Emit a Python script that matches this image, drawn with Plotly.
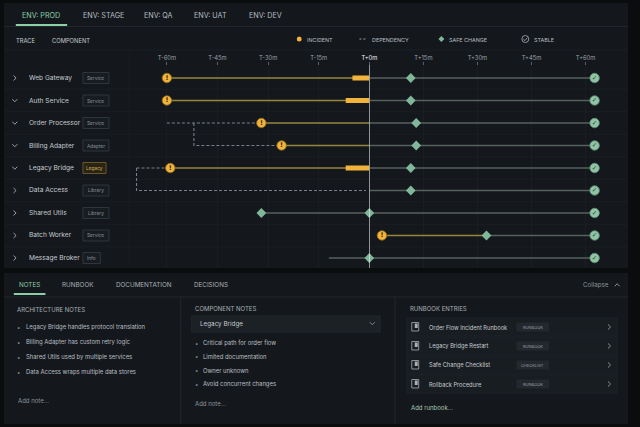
import plotly.graph_objects as go

# --- data ---
components = ["Web Gateway", "Auth Service", "Order Processor", "Billing Adapter",
              "Legacy Bridge", "Data Access", "Shared Utils", "Batch Worker", "Message Broker"]
kinds = ["Service", "Service", "Service", "Adapter", "Legacy", "Library", "Library", "Service", "Info"]
expanded = [False, True, True, True, True, False, False, False, False]

tick_vals = [-60, -45, -30, -15, 0, 15, 30, 45, 60]
tick_text = ["T-60m", "T-45m", "T-30m", "T-15m", "T+0m", "T+15m", "T+30m", "T+45m", "T+60m"]

incident_at = [-60, -60, -32, -26, -59, None, None, 3.5, None]
incident_end = [0, 0, 0, 0, 0, None, None, 32.5, None]
impact_from = [-5, -7, None, None, -7, None, None, None, None]
healthy_from = [0, 0, 0, 0, 0, 0, -32, 32.5, -12]
safe_changes = [[11.5], [11.5], [13], [13], [11.5], [11.5], [-32, 0], [32.5], [0]]
stable_at = [62.5, 62.5, 62.5, 62.5, 62.5, 62.5, 62.5, 62.5, 62.5]

# dependency paths as (minute, row index)
dep_paths = [
    [(-60, 2), (-32, 2)],
    [(-52, 2), (-52, 3), (-26, 3)],
    [(-69, 4), (-59, 4)],
    [(-69, 4), (-69, 5), (-1, 5)],
]

env_tabs = ["ENV: PROD", "ENV: STAGE", "ENV: QA", "ENV: UAT", "ENV: DEV"]
bottom_tabs = ["NOTES", "RUNBOOK", "DOCUMENTATION", "DECISIONS"]
architecture_notes = ["Legacy Bridge handles protocol translation",
                      "Billing Adapter has custom retry logic",
                      "Shared Utils used by multiple services",
                      "Data Access wraps multiple data stores"]
component_notes = ["Critical path for order flow", "Limited documentation",
                   "Owner unknown", "Avoid concurrent changes"]
runbook_titles = ["Order Flow Incident Runbook", "Legacy Bridge Restart",
                  "Safe Change Checklist", "Rollback Procedure"]
runbook_types = ["RUNBOOK", "RUNBOOK", "CHECKLIST", "RUNBOOK"]

# --- colours ---
OUTER = "#0a0c0e"
PANEL = "#14181c"
EDGE = "#22272d"
FAINT = "#1a1e23"
TEXT = "#c6cbd0"
DIM = "#8c9298"
GREEN = "#8bcfa6"
YELLOW = "#f2b33d"
YELLOW_DIM = "#97843f"
GRAY_LINE = "#56615e"
SAFE = "#80b699"
STABLE = "#8fc4a4"
DEP = "#7a7f87"
FONT = "Inter"

W, H = 640, 427


def px(x):
    return x / W


def py(y):
    return 1 - y / H


def ppath(points, close=False):
    s = "M " + " L ".join(f"{px(x):.5f},{py(y):.5f}" for x, y in points)
    return s + (" Z" if close else "")


shapes = []
annotations = []


def text(x, y, s, size=6.5, color=TEXT, anchor="left"):
    annotations.append(dict(x=px(x), y=py(y), xref="paper", yref="paper",
                            text=s, showarrow=False, xanchor=anchor, yanchor="middle",
                            font=dict(family=FONT, size=size, color=color)))


def rect(x0, y0, x1, y1, fill=None, line=None, width=1, layer="below"):
    shapes.append(dict(type="rect", xref="paper", yref="paper",
                       x0=px(x0), x1=px(x1), y0=py(y1), y1=py(y0),
                       fillcolor=fill or "rgba(0,0,0,0)",
                       line=dict(color=line or "rgba(0,0,0,0)", width=width if line else 0),
                       layer=layer))


def hline(x0, x1, y, color=EDGE, width=1):
    shapes.append(dict(type="line", xref="paper", yref="paper", x0=px(x0), x1=px(x1),
                       y0=py(y), y1=py(y), line=dict(color=color, width=width), layer="below"))


def vline(x, y0, y1, color=EDGE, width=1):
    shapes.append(dict(type="line", xref="paper", yref="paper", x0=px(x), x1=px(x),
                       y0=py(y0), y1=py(y1), line=dict(color=color, width=width), layer="below"))


def chevron(x, y, kind, color="#9aa0a6"):
    if kind == "down":
        pts = [(x - 2.5, y - 1.3), (x, y + 1.3), (x + 2.5, y - 1.3)]
    elif kind == "up":
        pts = [(x - 2.5, y + 1.3), (x, y - 1.3), (x + 2.5, y + 1.3)]
    else:
        pts = [(x - 1.3, y - 2.5), (x + 1.3, y), (x - 1.3, y + 2.5)]
    shapes.append(dict(type="path", xref="paper", yref="paper", path=ppath(pts),
                       line=dict(color=color, width=1), layer="above"))


# --- panels ---
rect(4, 3, 636, 268, fill=PANEL)
rect(4, 273, 636, 424, fill=PANEL)
hline(4, 636, 26.5)
hline(4, 636, 50, color=FAINT)
vline(131, 50, 268, color=FAINT)

# top tabs
tab_x = [42, 105, 160, 213, 269]
for i, (t, x) in enumerate(zip(env_tabs, tab_x)):
    text(x, 15.5, t, size=7.2, color=GREEN if i == 0 else "#b7bcc2", anchor="center")
hline(16, 68, 25, color=GREEN, width=2)

# header + legend
text(14, 40, "TRACE", size=5.8)
text(51, 40, "COMPONENT", size=5.8)
shapes.append(dict(type="circle", xref="paper", yref="paper", x0=px(300.5), x1=px(305.5),
                   y0=py(41.5), y1=py(36.5), fillcolor=YELLOW, line=dict(width=0), layer="above"))
text(309, 39.5, "INCIDENT", size=5.4, color="#b9bec3")
shapes.append(dict(type="line", xref="paper", yref="paper", x0=px(364), x1=px(372), y0=py(39), y1=py(39),
                   line=dict(color="#9aa0a6", width=1, dash="2px,2px"), layer="above"))
text(375, 39.5, "DEPENDENCY", size=5.4, color="#b9bec3")
shapes.append(dict(type="path", xref="paper", yref="paper",
                   path=ppath([(447, 36), (450, 39), (447, 42), (444, 39)], close=True),
                   fillcolor=SAFE, line=dict(width=0), layer="above"))
text(453, 39.5, "SAFE CHANGE", size=5.4, color="#b9bec3")
shapes.append(dict(type="circle", xref="paper", yref="paper", x0=px(528.5), x1=px(535.5),
                   y0=py(42.5), y1=py(35.5), line=dict(color="#9aa0a6", width=0.9), layer="above"))
shapes.append(dict(type="path", xref="paper", yref="paper",
                   path=ppath([(530, 39.2), (531.6, 40.6), (534, 37.6)]),
                   line=dict(color="#9aa0a6", width=0.9), layer="above"))
text(539, 39.5, "STABLE", size=5.4, color="#b9bec3")

# component rows
for i, (name, kind, exp) in enumerate(zip(components, kinds, expanded)):
    if i < len(components) - 1:
        shapes.append(dict(type="line", xref="paper", yref="y", x0=px(4), x1=px(636), y0=i + 0.5, y1=i + 0.5,
                           line=dict(color=FAINT, width=1), layer="below"))
    yy = 78 + 22.5 * i
    chevron(15, yy, "down" if exp else "right")
    text(27, yy, name, size=6.6, color=TEXT)
    w = 6 + 2.9 * len(kind)
    legacy = kind == "Legacy"
    rect(84, yy - 5.5, 84 + w, yy + 5.5, fill="#2a2414" if legacy else "#171c21",
         line="#7a6530" if legacy else "#363c44", width=0.8, layer="above")
    text(84 + w / 2, yy, kind, size=4.8, color="#d6b25a" if legacy else "#8a9199", anchor="center")

# bottom panel
for i, (t, x) in enumerate(zip(bottom_tabs, [30, 79, 146, 214])):
    text(x, 285, t, size=6.3, color=GREEN if i == 0 else "#aab0b6", anchor="center")
hline(14, 46, 294, color=GREEN, width=2)
text(604, 285, "Collapse", size=6.2, color="#8c9298", anchor="center")
chevron(625, 285, "up", color="#8c9298")
hline(4, 636, 297)
vline(183, 297, 424)
vline(400, 297, 424)

text(15, 309, "ARCHITECTURE NOTES", size=6.0, color="#a9afb5")
for k, note in enumerate(architecture_notes):
    yy = 327 + 15 * k
    text(15.5, yy, "•", size=6, color=DIM)
    text(24, yy, note, size=5.9, color="#b9bec3")
text(16, 400, "Add note...", size=6, color=DIM)

text(195, 308, "COMPONENT NOTES", size=6.0, color="#a9afb5")
rect(194, 316, 385, 332, fill="#1c2126", line="#23292f", width=0.8)
text(201, 324, "Legacy Bridge", size=6.3, color=TEXT)
chevron(377, 323.5, "down", color="#7c828a")
for k, note in enumerate(component_notes):
    yy = 343 + 13.7 * k
    text(195.5, yy, "•", size=6, color=DIM)
    text(204, yy, note, size=5.9, color="#b9bec3")
text(195, 403, "Add note...", size=6, color=DIM)

text(413, 308, "RUNBOOK ENTRIES", size=6.0, color="#a9afb5")
for k, (title, kind) in enumerate(zip(runbook_titles, runbook_types)):
    yy = 327 + 19 * k
    rect(412, yy - 9, 625, yy + 9, fill="#181d22", line="#1f252b", width=0.8)
    rect(417, yy - 4.5, 424, yy + 4, line="#aab0b6", width=0.8, layer="above")
    rect(420, yy - 3.5, 423, yy + 1, fill="#aab0b6", layer="above")
    text(432, yy, title, size=5.7, color=TEXT)
    rect(523, yy - 4.5, 556, yy + 4.5, fill="#22282e")
    text(539.5, yy, kind, size=4.0, color="#9aa0a6", anchor="center")
    chevron(617, yy, "right", color="#8c9298")
text(414, 407, "Add runbook...", size=6, color="#a9c7b4")

# --- timeline traces ---
# the timeline is split at T+0: "x" holds the past, "x2" the future
fig = go.Figure()


def segments(starts, ends):
    past, future = ([], []), ([], [])
    for i, (a, b) in enumerate(zip(starts, ends)):
        if a is None or b is None:
            continue
        if a < 0:
            past[0].extend([a, min(b, 0), None])
            past[1].extend([i, i, None])
        if b > 0:
            future[0].extend([max(a, 0), b, None])
            future[1].extend([i, i, None])
    return past, future


def add_lines(starts, ends, line):
    past, future = segments(starts, ends)
    for (xs, ys), ax in ((past, "x"), (future, "x2")):
        if xs:
            fig.add_trace(go.Scatter(x=xs, y=ys, xaxis=ax, yaxis="y", mode="lines",
                                     line=line, hoverinfo="skip"))


def add_points(xs, ys, **kw):
    for ax, keep in (("x", lambda v: v < 0), ("x2", lambda v: v >= 0)):
        idx = [k for k, v in enumerate(xs) if keep(v)]
        if not idx:
            continue
        extra = dict(kw)
        if "text" in extra:
            extra["text"] = [kw["text"][k] for k in idx]
        fig.add_trace(go.Scatter(x=[xs[k] for k in idx], y=[ys[k] for k in idx], xaxis=ax, yaxis="y",
                                 cliponaxis=False, hoverinfo="skip", **extra))


add_lines(healthy_from, stable_at, dict(color=GRAY_LINE, width=1.5))
add_lines(incident_at, incident_end, dict(color=YELLOW_DIM, width=1.4))
add_lines(impact_from, [0 if v is not None else None for v in impact_from], dict(color=YELLOW, width=5))

dx, dy = [], []
for path in dep_paths:
    dx += [p[0] for p in path] + [None]
    dy += [p[1] for p in path] + [None]
fig.add_trace(go.Scatter(x=dx, y=dy, xaxis="x", yaxis="y", mode="lines",
                         line=dict(color=DEP, width=1.1, dash="3px,2px"), hoverinfo="skip"))

sx, sy = [], []
for i, pts in enumerate(safe_changes):
    sx += pts
    sy += [i] * len(pts)
add_points(sx, sy, mode="markers", marker=dict(symbol="diamond", size=7.5, color=SAFE))

add_points(stable_at, list(range(len(components))), mode="markers+text",
           marker=dict(symbol="circle", size=9.5, color=STABLE, line=dict(color="#5f8a72", width=0.8)),
           text=["✓"] * len(components), textposition="middle center",
           textfont=dict(family="DejaVu Sans", size=6.5, color="#1e3a2a"))

inc_rows = [i for i, v in enumerate(incident_at) if v is not None]
add_points([incident_at[i] for i in inc_rows], inc_rows, mode="markers+text",
           marker=dict(symbol="circle", size=9.5, color=YELLOW, line=dict(color="#8a6a1c", width=0.8)),
           text=["<b>!</b>"] * len(inc_rows), textposition="middle center",
           textfont=dict(family="DejaVu Sans", size=6.5, color="#2b2104"))

# now marker
fig.add_trace(go.Scatter(x=[0], y=[-0.62], xaxis="x2", yaxis="y", mode="markers",
                         marker=dict(symbol="triangle-down", size=6, color="#f2f3f4"),
                         cliponaxis=False, hoverinfo="skip"))
shapes.append(dict(type="line", xref="x2", yref="paper", x0=0, x1=0, y0=py(268), y1=py(65),
                   line=dict(color="#e9ebed", width=1.1), layer="above"))

# axis geometry in pixels: T-60 at 169, T+0 at 374, T+60 at 593
scale_past = (374 - 169) / 60
scale_future = (593 - 374) / 60
x_left = -60 - (169 - 131) / scale_past
x_right = 60 + (620 - 593) / scale_future
row_px = 22.5
y_top, y_bot = 66, 268

tick_labels = [f'<span style="color:#f2f3f4">{t}</span>' if v == 0 else t for v, t in zip(tick_vals, tick_text)]
past_ticks = [k for k, v in enumerate(tick_vals) if v <= 0]
future_ticks = [k for k, v in enumerate(tick_vals) if v > 0]

axis_style = dict(side="top", ticks="outside", ticklen=3, tickcolor="#59606a",
                  tickfont=dict(family=FONT, size=5.8, color="#9ba1a7"),
                  showgrid=True, gridcolor=FAINT, zeroline=False, showline=False, fixedrange=True)

fig.update_layout(
    width=W, height=H, margin=dict(l=0, r=0, t=0, b=0),
    paper_bgcolor=OUTER, plot_bgcolor="rgba(0,0,0,0)",
    showlegend=False,
    font=dict(family=FONT, color=TEXT),
    xaxis=dict(domain=[px(131), px(374)], range=[x_left, 0], anchor="y",
               tickvals=[tick_vals[k] for k in past_ticks], ticktext=[tick_labels[k] for k in past_ticks],
               **axis_style),
    xaxis2=dict(domain=[px(374), px(620)], range=[0, x_right], anchor="y",
                tickvals=[tick_vals[k] for k in future_ticks], ticktext=[tick_labels[k] for k in future_ticks],
                **axis_style),
    yaxis=dict(domain=[py(y_bot), py(y_top)],
               range=[(y_bot - 78) / row_px, (y_top - 78) / row_px],
               visible=False, fixedrange=True),
    shapes=shapes, annotations=annotations,
)

# drop the default page margin so the figure sits flush in the window
fig.write_html("out.html", config={"displayModeBar": False},
               post_script="document.body.style.margin='0';document.body.style.background='#0a0c0e';")
